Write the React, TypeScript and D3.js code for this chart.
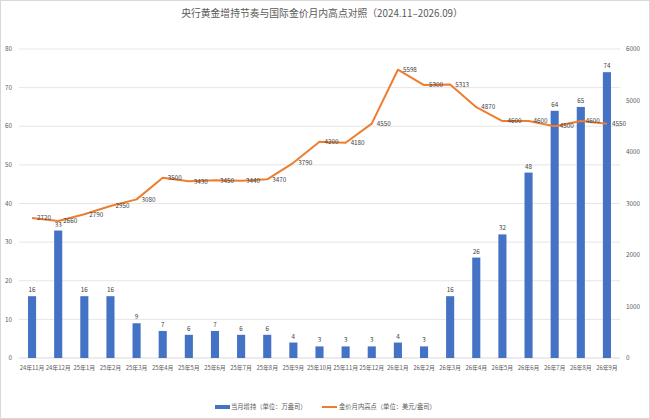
import { useRef, useEffect } from "react";
import * as d3 from "d3";

const months = [
  "24年11月", "24年12月", "25年1月", "25年2月", "25年3月", "25年4月", "25年5月",
  "25年6月", "25年7月", "25年8月", "25年9月", "25年10月", "25年11月", "25年12月",
  "26年1月", "26年2月", "26年3月", "26年4月", "26年5月", "26年6月", "26年7月",
  "26年8月", "26年9月",
];
const holdings = [16, 33, 16, 16, 9, 7, 6, 7, 6, 6, 4, 3, 3, 3, 4, 3, 16, 26, 32, 48, 64, 65, 74];
const goldHigh = [
  2720, 2660, 2790, 2950, 3080, 3500, 3430, 3450, 3440, 3470, 3790, 4200,
  4180, 4550, 5598, 5300, 5313, 4870, 4600, 4600, 4500, 4600, 4550,
];
const leftTicks = [0, 10, 20, 30, 40, 50, 60, 70, 80];
const rightTicks = [0, 1000, 2000, 3000, 4000, 5000, 6000];

const W = 650;
const H = 419;
const FONT = "'Noto Sans CJK SC', 'Noto Sans', sans-serif";

export default function App() {
  const ref = useRef<SVGSVGElement>(null);

  useEffect(() => {
    document.body.style.margin = "0";
    const svg = d3.select(ref.current);
    svg.selectAll("*").remove();

    const margin = { top: 49, right: 30, bottom: 61, left: 19 };
    const x = d3.scaleBand<string>()
      .domain(months)
      .range([margin.left, W - margin.right])
      .paddingInner(0.69)
      .paddingOuter(0.345);
    const yL = d3.scaleLinear().domain([0, 80]).range([H - margin.bottom, margin.top]);
    const yR = d3.scaleLinear().domain([0, 6000]).range([H - margin.bottom, margin.top]);
    const cx = (m: string) => (x(m) ?? 0) + x.bandwidth() / 2;

    svg.append("rect")
      .attr("x", 0.5).attr("y", 0.5).attr("width", W - 1).attr("height", H - 1)
      .attr("fill", "#fff").attr("stroke", "#D9D9D9");

    // title
    svg.append("text")
      .attr("x", W / 2 - 3).attr("y", 17)
      .attr("text-anchor", "middle")
      .attr("font-size", 9.8)
      .attr("fill", "#595959")
      .text("央行黄金增持节奏与国际金价月内高点对照（2024.11–2026.09）");

    // grid lines + left axis labels
    const grid = svg.append("g");
    leftTicks.forEach((t) => {
      grid.append("line")
        .attr("x1", margin.left).attr("x2", W - margin.right)
        .attr("y1", yL(t)).attr("y2", yL(t))
        .attr("stroke", t === 0 ? "#D9D9D9" : "#E6E6E6").attr("stroke-width", 1);
      grid.append("text")
        .attr("x", 12).attr("y", yL(t)).attr("dy", "0.35em")
        .attr("text-anchor", "end").attr("font-size", 6.3).attr("fill", "#595959")
        .text(t);
    });

    // right axis labels
    rightTicks.forEach((t) => {
      svg.append("text")
        .attr("x", 626).attr("y", yR(t)).attr("dy", "0.35em")
        .attr("text-anchor", "start").attr("font-size", 6.3).attr("fill", "#595959")
        .text(t);
    });

    // x labels
    svg.append("g")
      .selectAll("text")
      .data(months)
      .join("text")
      .attr("x", (d) => cx(d))
      .attr("y", H - margin.bottom + 12)
      .attr("text-anchor", "middle")
      .attr("font-size", 5.9)
      .attr("fill", "#595959")
      .text((d) => d);

    // bars
    svg.append("g")
      .attr("fill", "#4472C4")
      .selectAll("rect")
      .data(months)
      .join("rect")
      .attr("x", (d) => x(d) ?? 0)
      .attr("y", (d, i) => yL(holdings[i]))
      .attr("width", x.bandwidth())
      .attr("height", (d, i) => yL(0) - yL(holdings[i]));

    svg.append("g")
      .selectAll("text")
      .data(months)
      .join("text")
      .attr("x", (d) => cx(d))
      .attr("y", (d, i) => yL(holdings[i]) - 4)
      .attr("text-anchor", "middle")
      .attr("font-size", 6.3)
      .attr("fill", "#404040")
      .text((d, i) => holdings[i]);

    // line
    const line = d3.line<number>()
      .x((d, i) => cx(months[i]))
      .y((d) => yR(d));
    svg.append("path")
      .datum(goldHigh)
      .attr("d", line)
      .attr("fill", "none")
      .attr("stroke", "#ED7D31")
      .attr("stroke-width", 2)
      .attr("stroke-linejoin", "round");

    svg.append("g")
      .selectAll("text")
      .data(goldHigh)
      .join("text")
      .attr("x", (d, i) => cx(months[i]) + 5)
      .attr("y", (d) => yR(d))
      .attr("dy", "0.35em")
      .attr("font-size", 6.3)
      .attr("fill", "#404040")
      .text((d) => d);

    // legend
    const lg = svg.append("g").attr("font-size", 6.3).attr("fill", "#595959");
    lg.append("rect").attr("x", 215).attr("y", 405).attr("width", 15).attr("height", 4).attr("fill", "#4472C4");
    lg.append("text").attr("x", 231).attr("y", 407).attr("dy", "0.35em").text("当月增持（单位：万盎司）");
    lg.append("line").attr("x1", 322).attr("x2", 337).attr("y1", 407).attr("y2", 407)
      .attr("stroke", "#ED7D31").attr("stroke-width", 2);
    lg.append("text").attr("x", 339).attr("y", 407).attr("dy", "0.35em").text("金价月内高点（单位：美元/盎司）");
  }, []);

  return (
    <svg
      ref={ref}
      width={W}
      height={H}
      style={{ display: "block", fontFamily: FONT }}
      fontFamily={FONT}
    />
  );
}
